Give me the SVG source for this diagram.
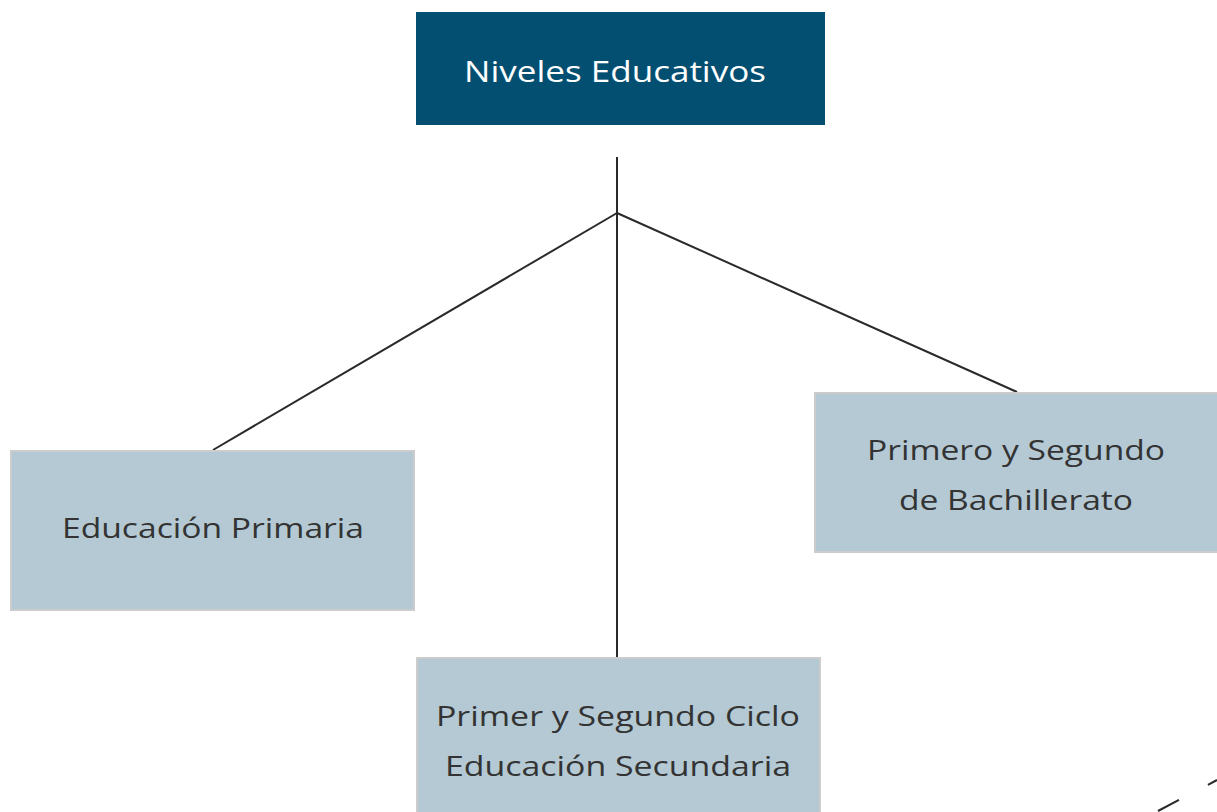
<svg xmlns="http://www.w3.org/2000/svg" width="1217" height="812" viewBox="0 0 1217 812">
<style>
.lbl{font-family:"Open Sans","Liberation Sans",sans-serif;font-size:28px;fill:#333333;text-anchor:middle}
.title{font-family:"Open Sans","Liberation Sans",sans-serif;font-size:30px;fill:#ffffff;text-anchor:middle}
.box{fill:#b4c9d4;stroke:#cccccc;stroke-width:2}
.conn{stroke:#2a2a2a;stroke-width:2;fill:none}
</style>
<rect width="1217" height="812" fill="#ffffff"/>
<g id="connectors">
<line class="conn" x1="617" y1="157" x2="617" y2="658"/>
<line class="conn" x1="617" y1="213" x2="213" y2="450"/>
<line class="conn" x1="617" y1="213" x2="1017" y2="392"/>
<line class="conn" x1="1158" y1="811" x2="1217" y2="780" stroke-width="1" stroke-dasharray="23.7,32.7"/>
</g>
<g id="niveles">
<rect x="416" y="12" width="409" height="113" fill="#034f72"/>
<text class="title" x="615" y="82" textLength="302" lengthAdjust="spacingAndGlyphs">Niveles Educativos</text>
</g>
<g id="primaria">
<rect class="box" x="11" y="451" width="403" height="159"/>
<text class="lbl" x="213" y="538" textLength="302" lengthAdjust="spacingAndGlyphs">Educación Primaria</text>
</g>
<g id="bachillerato">
<rect class="box" x="815" y="393" width="405" height="159"/>
<text class="lbl" x="1016" y="460" textLength="298" lengthAdjust="spacingAndGlyphs">Primero y Segundo</text>
<text class="lbl" x="1016" y="510" textLength="234" lengthAdjust="spacingAndGlyphs">de Bachillerato</text>
</g>
<g id="secundaria">
<rect class="box" x="417" y="658" width="403" height="160"/>
<text class="lbl" x="618" y="726" textLength="364" lengthAdjust="spacingAndGlyphs">Primer y Segundo Ciclo</text>
<text class="lbl" x="618" y="776" textLength="346" lengthAdjust="spacingAndGlyphs">Educación Secundaria</text>
</g>
</svg>
